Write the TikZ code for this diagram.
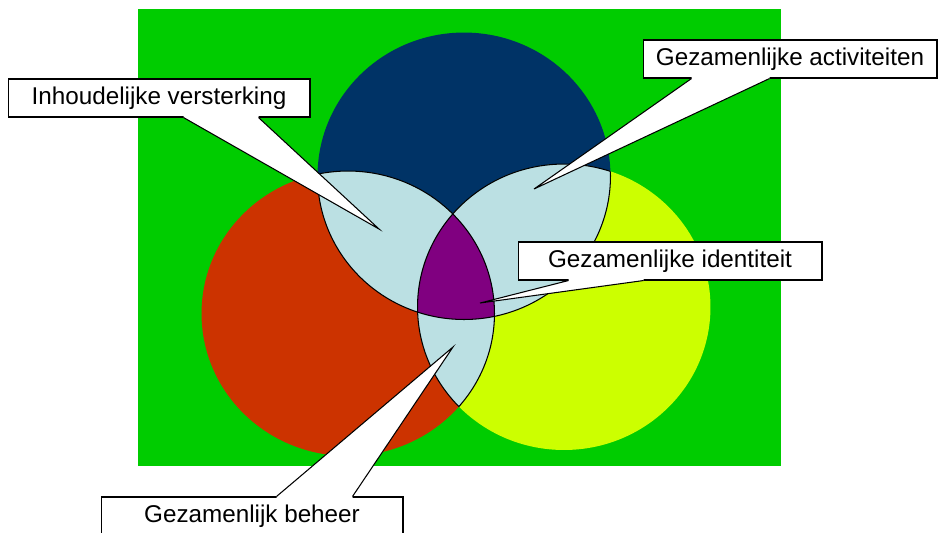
\documentclass[tikz,border=0pt]{standalone}
\usepackage{fontspec}
\setmainfont{Liberation Sans}
\usetikzlibrary{calc}

\definecolor{fieldgreen}{HTML}{00CC00}
\definecolor{vennblue}{HTML}{003366}
\definecolor{vennred}{HTML}{CC3300}
\definecolor{vennyellow}{HTML}{CCFF00}
\definecolor{lensblue}{HTML}{BBE0E3}
\definecolor{vennpurple}{HTML}{800080}

\def\bluecirc{(464,176) ellipse [x radius=2.93cm, y radius=2.87cm]}
\def\redcirc{(348,313.5) ellipse [x radius=2.93cm, y radius=2.85cm]}
\def\yellowcirc{(564,307) ellipse [x radius=2.93cm, y radius=2.86cm]}

\tikzset{
  lens line/.style={draw=black, line width=0.6pt},
  label box/.style={draw=black, fill=white, line width=0.6pt, inner sep=0pt,
    minimum height=0.76cm, font=\fontsize{13.8}{16}\selectfont}
}

\begin{document}
\begin{tikzpicture}[x=0.02cm,y=-0.02cm]
\useasboundingbox (0,0) rectangle (939,532);

% background and the three circles
\fill[fieldgreen] (138,9) rectangle (781,466);
\fill[vennblue] \bluecirc;
\fill[vennred] \redcirc;
\fill[vennyellow] \yellowcirc;

% overlaps of two
\begin{scope}
  \clip \bluecirc;
  \fill[lensblue] \redcirc;
  \fill[lensblue] \yellowcirc;
\end{scope}
\begin{scope}
  \clip \redcirc;
  \fill[lensblue] \yellowcirc;
\end{scope}

% overlap of all three
\begin{scope}
  \clip \bluecirc;
  \clip \redcirc;
  \fill[vennpurple] \yellowcirc;
\end{scope}

% outlines inside the overlaps
\begin{scope}
  \clip \redcirc \yellowcirc;
  \draw[lens line] \bluecirc;
\end{scope}
\begin{scope}
  \clip \bluecirc \yellowcirc;
  \draw[lens line] \redcirc;
\end{scope}
\begin{scope}
  \clip \bluecirc \redcirc;
  \draw[lens line] \yellowcirc;
\end{scope}

% callouts
\node[label box, minimum width=6.04cm] (inhoud) at (159,98) {Inhoudelijke versterking};
\node[label box, minimum width=5.88cm] (activ) at (790,59) {Gezamenlijke activiteiten};
\node[label box, minimum width=6.08cm] (ident) at (670,261) {Gezamenlijke identiteit};
\node[label box, minimum width=6.04cm] (beheer) at (252,516) {Gezamenlijk beheer};

\coordinate (inhoud tip) at (379,229);
\coordinate (activ tip) at (534,189);
\coordinate (ident tip) at (480,303);
\coordinate (beheer tip) at (453,347);

\foreach \n/\anc/\a/\b/\d in {inhoud/south west/176/251/-2,
    activ/south west/49/127/-2, ident/south west/51/126/-2,
    beheer/north west/176/252/2}{
  \fill[white] ($(\n.\anc)+(\a,0)$) -- (\n\space tip) -- ($(\n.\anc)+(\b,0)$)
    -- ($(\n.\anc)+(\b,\d)$) -- ($(\n.\anc)+(\a,\d)$) -- cycle;
  \draw[lens line, line join=miter] ($(\n.\anc)+(\a,0)$) -- (\n\space tip) -- ($(\n.\anc)+(\b,0)$);
}

\end{tikzpicture}
\end{document}
